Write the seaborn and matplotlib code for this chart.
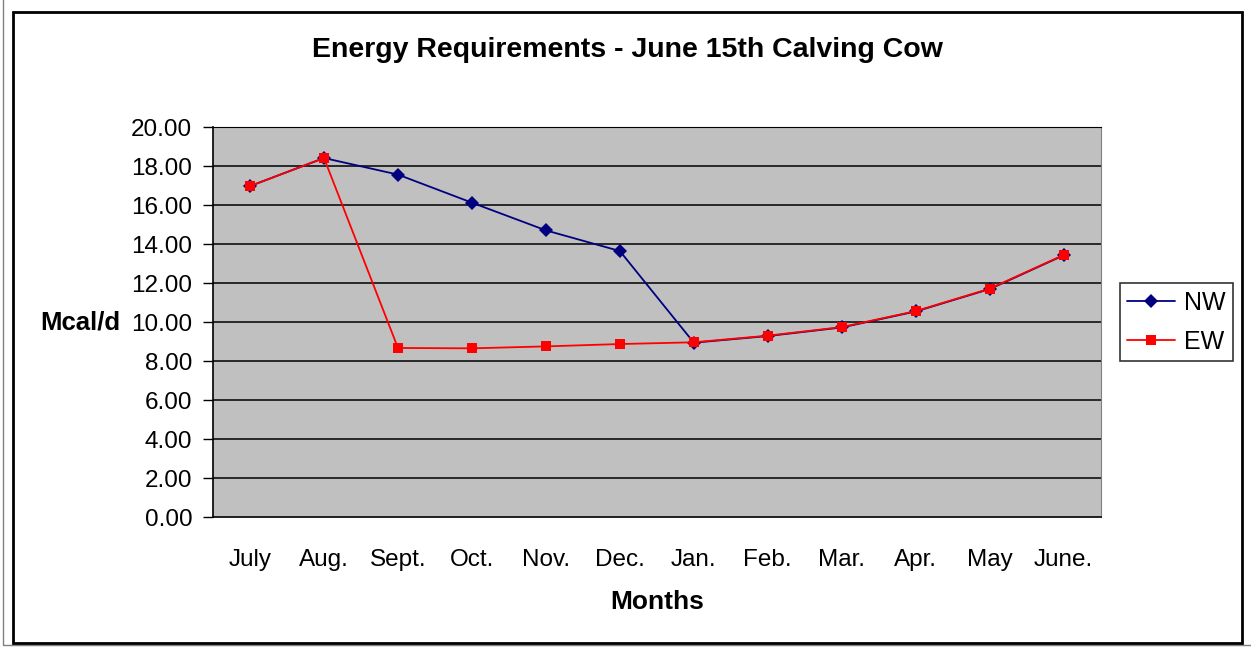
# Energy requirements chart - June 15th calving cow

import numpy as np
import pandas as pd
import matplotlib
matplotlib.use("Agg")
import matplotlib.pyplot as plt
from matplotlib.patches import Rectangle
import seaborn as sns

months = ["July", "Aug.", "Sept.", "Oct.", "Nov.", "Dec.", "Jan.", "Feb.", "Mar.", "Apr.", "May", "June."]
nw = [16.97, 18.41, 17.56, 16.12, 14.70, 13.64, 8.94, 9.28, 9.72, 10.54, 11.69, 13.42]
ew = [16.97, 18.41, 8.67, 8.65, 8.75, 8.87, 8.96, 9.30, 9.74, 10.56, 11.71, 13.44]
y_ticks = [0, 2, 4, 6, 8, 10, 12, 14, 16, 18, 20]

sns.set_style("white")
plt.rcParams["font.family"] = ["Liberation Sans", "DejaVu Sans"]
for key in ["text.color", "axes.labelcolor", "xtick.color", "ytick.color"]:
    plt.rcParams[key] = "black"

df = pd.DataFrame({
    "month": months * 2,
    "value": nw + ew,
    "series": ["NW"] * len(nw) + ["EW"] * len(ew),
})
df["pos"] = df["month"].map({m: i for i, m in enumerate(months)})

fig = plt.figure(figsize=(12.51, 6.47), dpi=100)
ax = fig.add_axes([0.1703, 0.2009, 0.7095, 0.6028])
ax.set_facecolor("#C0C0C0")

# cadre exterieur
fig.patches.append(Rectangle((0.002, 0.003), 1.1, 1.1, transform=fig.transFigure,
                             fill=False, edgecolor="#808080", linewidth=1))
fig.patches.append(Rectangle((0.0104, 0.0062), 0.9824, 0.9753, transform=fig.transFigure,
                             fill=False, edgecolor="black", linewidth=2))

for t in y_ticks[1:]:
    ax.axhline(t, color="black", linewidth=1.1, zorder=1)

sns.lineplot(data=df, x="pos", y="value", hue="series", style="series",
             palette={"NW": "#000080", "EW": "#FF0000"},
             markers={"NW": "D", "EW": "s"}, dashes=False,
             markersize=7.5, linewidth=1.3, markeredgewidth=0,
             ax=ax, zorder=3)

ax.set_xlim(-0.5, len(months) - 0.5)
ax.set_ylim(0, 20)
ax.set_yticks(y_ticks)
ax.set_yticklabels([f"{v:.2f}" for v in y_ticks], fontsize=17.5)
ax.set_xticks(range(len(months)))
ax.set_xticklabels(months, fontsize=17.5)
ax.set_xticks(np.arange(-0.5, len(months), 1), minor=True)
ax.tick_params(axis="x", which="major", length=0, pad=23)
ax.tick_params(axis="x", which="minor", length=6, width=1, direction="out", color="black")
ax.tick_params(axis="y", length=7, width=1, direction="out", color="black", pad=8, left=True)

for side in ["left", "bottom"]:
    ax.spines[side].set_color("black")
    ax.spines[side].set_linewidth(1.2)
ax.spines["right"].set_color("#808080")
ax.spines["top"].set_color("black")

fig.suptitle("Energy Requirements - June 15th Calving Cow", x=0.5016, y=0.912,
             va="baseline", fontsize=20.5, fontweight="bold")
ax.set_xlabel("Months", fontsize=19, fontweight="bold", labelpad=14)
ax.set_ylabel("Mcal/d", fontsize=18.5, fontweight="bold", rotation=0, labelpad=8,
              ha="right", va="center")

handles, labels = ax.get_legend_handles_labels()
leg = ax.legend(handles, labels, loc="center left", bbox_to_anchor=(1.0214, 0.5),
                borderaxespad=0, fontsize=18, frameon=True, fancybox=False,
                edgecolor="black", handlelength=1.9, handletextpad=0.36,
                borderpad=0.3, labelspacing=0.6)
leg.get_frame().set_linewidth(1.2)

fig.savefig("out.png", dpi=100)
